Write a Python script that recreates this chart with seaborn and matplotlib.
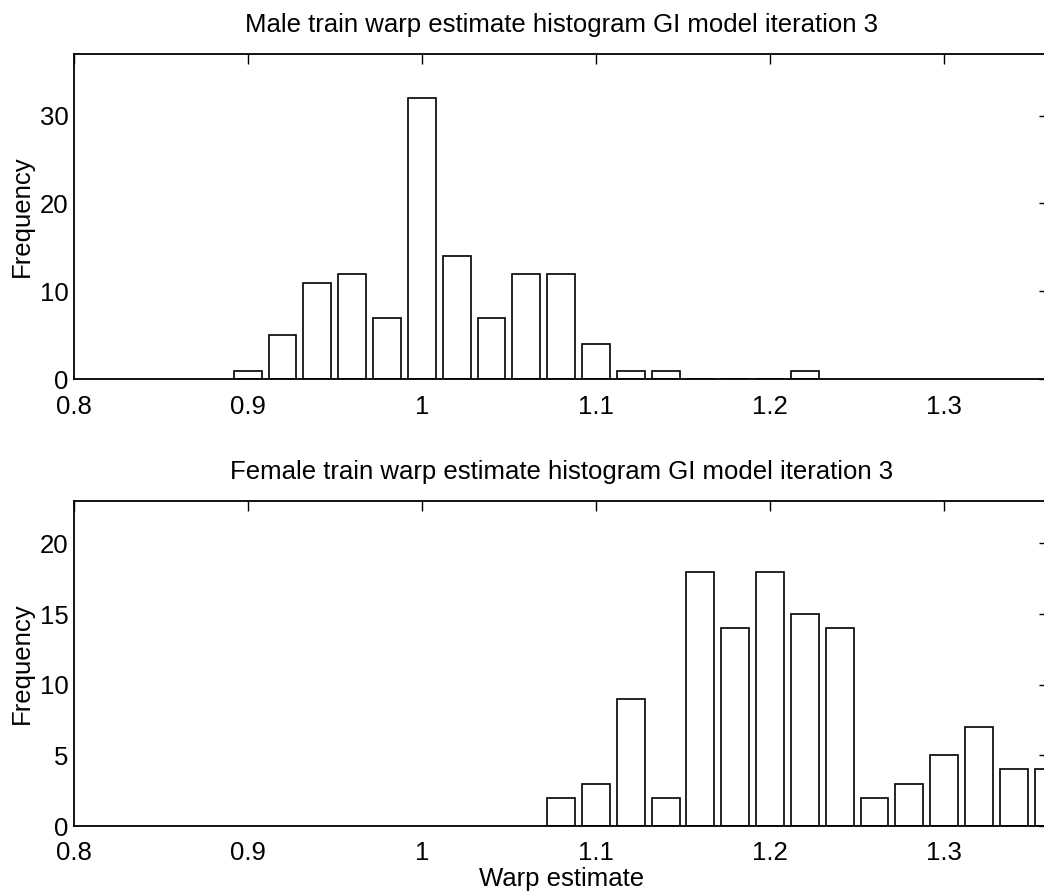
import numpy as np
import pandas as pd
import matplotlib
matplotlib.use("Agg")
import matplotlib.pyplot as plt
import seaborn as sns

# Histogram bin centres and counts for the warp estimates
male_centers = [0.90, 0.92, 0.94, 0.96, 0.98, 1.00, 1.02, 1.04, 1.06,
                1.08, 1.10, 1.12, 1.14, 1.16, 1.18, 1.20, 1.22]
male_counts = [1, 5, 11, 12, 7, 32, 14, 7, 12, 12, 4, 1, 1, 0, 0, 0, 1]

female_centers = [1.08, 1.10, 1.12, 1.14, 1.16, 1.18, 1.20, 1.22,
                  1.24, 1.26, 1.28, 1.30, 1.32, 1.34, 1.36]
female_counts = [2, 3, 9, 2, 18, 14, 18, 15, 14, 2, 3, 5, 7, 4, 4]

titles = ["Male train warp estimate histogram GI model iteration 3",
          "Female train warp estimate histogram GI model iteration 3"]
x_ticks = [0.8, 0.9, 1.0, 1.1, 1.2, 1.3]
x_tick_labels = ["0.8", "0.9", "1", "1.1", "1.2", "1.3"]
male_y_ticks = [0, 10, 20, 30]
female_y_ticks = [0, 5, 10, 15, 20]

BIN_WIDTH = 0.02
FS = 18.5

sns.set_theme(style="white")
plt.rcParams.update({
    "font.family": ["Liberation Sans", "DejaVu Sans"],
    "font.size": FS,
    "axes.labelsize": FS,
    "axes.titlesize": FS,
    "axes.edgecolor": "black",
    "axes.linewidth": 1.3,
    "xtick.direction": "in",
    "ytick.direction": "in",
    "xtick.top": True,
    "ytick.right": True,
    "xtick.major.size": 7.5,
    "ytick.major.size": 7.5,
    "xtick.major.width": 1.0,
    "ytick.major.width": 1.0,
    "xtick.color": "black",
    "ytick.color": "black",
    "xtick.labelsize": FS,
    "ytick.labelsize": FS,
    "xtick.major.pad": 11,
    "ytick.major.pad": 3.5,
    "text.color": "black",
    "axes.labelcolor": "black",
})

fig = plt.figure(figsize=(10.44, 8.94), dpi=100)
W, H = 1044, 894
left_px, right_px = 73.5, 1048.7
ax_top = fig.add_axes([left_px / W, 1 - 379.3 / H,
                       (right_px - left_px) / W, (379.3 - 54) / H])
ax_bot = fig.add_axes([left_px / W, 1 - 826 / H,
                       (right_px - left_px) / W, (826 - 501) / H])


def draw_hist(ax, centers, counts, ymax, yticks, title):
    df = pd.DataFrame({"warp": centers, "count": counts})
    c = np.asarray(centers)
    edges = np.append(c - BIN_WIDTH / 2, c[-1] + BIN_WIDTH / 2).tolist()
    sns.histplot(data=df, x="warp", weights="count", bins=edges,
                 shrink=0.8, fill=False, color="black",
                 linewidth=1.2, ax=ax)
    ax.set_xlim(0.8, 1.36)
    ax.set_ylim(0, ymax)
    ax.set_xticks(x_ticks)
    ax.set_xticklabels(x_tick_labels)
    ax.set_yticks(yticks)
    ax.set_ylabel("Frequency", labelpad=4, fontsize=FS)
    ax.set_xlabel("")
    ax.set_title(title, fontsize=FS, pad=16)
    for side in ["top", "right", "left", "bottom"]:
        ax.spines[side].set_visible(True)
        ax.spines[side].set_color("black")


draw_hist(ax_top, male_centers, male_counts, 37, male_y_ticks, titles[0])
draw_hist(ax_bot, female_centers, female_counts, 23, female_y_ticks, titles[1])
ax_bot.set_xlabel("Warp estimate", labelpad=1, fontsize=FS)

fig.savefig("out.png", dpi=100, facecolor="white")
